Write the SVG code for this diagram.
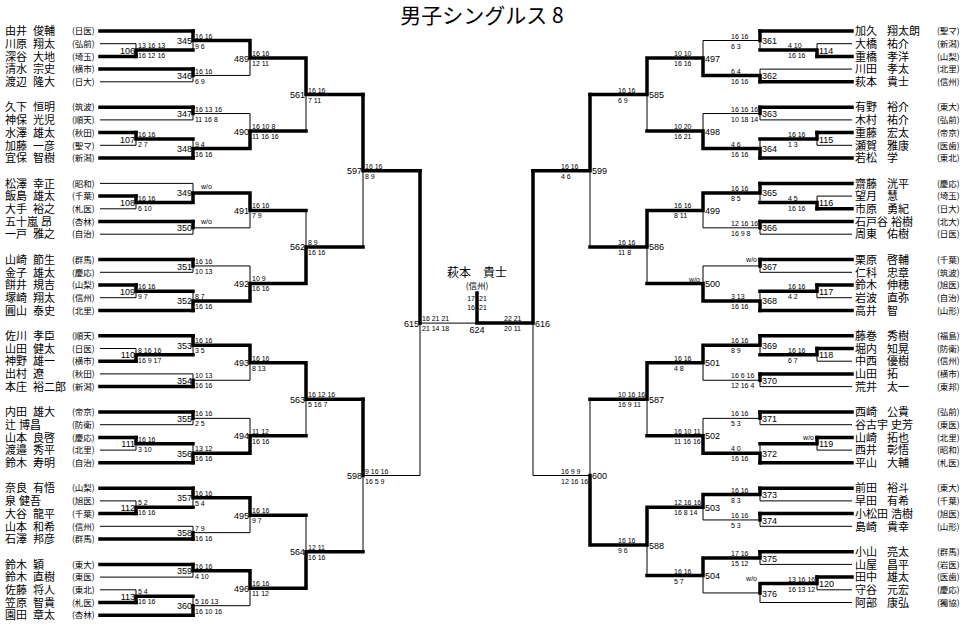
<svg xmlns="http://www.w3.org/2000/svg" width="965" height="629" viewBox="0 0 965 629">
<style>
.t{stroke:#000;stroke-width:1;fill:none}
.k{stroke:#000;stroke-width:3.5;fill:none;stroke-linecap:square}
.nm{font-family:"Noto Sans CJK JP","Noto Sans CJK SC",sans-serif;font-size:11px;fill:#000}
.sc{font-family:"Noto Sans CJK JP","Noto Sans CJK SC",sans-serif;font-size:8.5px;fill:#000}
.mn{font-family:"Liberation Sans",Arial,sans-serif;font-size:9px;fill:#000}
.ss{font-family:"Liberation Sans",Arial,sans-serif;font-size:7px;fill:#000}
.e{text-anchor:end}
.c{text-anchor:middle}
</style>
<rect width="965" height="629" fill="#fff"/>
<text x="482" y="23" class="c" style="font-family:'Noto Sans CJK JP',sans-serif;font-size:21px">男子シングルス 8</text>

<g id="connectors">
<!-- left thin -->
<path class="t" d="M100 43.7H136M100 81.8H193M100 119.9H193M100 145.3H136M100 183.4H193M100 208.8H136M100 234.2H193M100 272.3H193M100 297.7H136M100 348.5H136M100 373.9H193M100 424.7H193M100 450.1H136M100 500.9H136M100 526.3H193M100 577.1H193M100 589.8H136"/>
<path class="t" d="M136 43.7V56.4M136 132.6V145.3M136 196.1V208.8M136 285V297.7M136 348.5V361.2M136 437.4V450.1M136 500.9V513.6M136 589.8V602.5"/>
<path class="t" d="M193 31V50.05M193 69.1V81.8M193 107.2V119.9M193 138.95V158M193 183.4V202.45M193 221.5V234.2M193 259.6V272.3M193 291.35V310.4M193 335.8V354.85M193 373.9V386.6M193 412V424.7M193 443.75V462.8M193 488.2V507.25M193 526.3V539M193 564.4V577.1M193 596.15V615.2"/>
<path class="t" d="M250 40.5V75.45M250 113.55V148.5M250 192.9V227.85M250 265.95V300.9M250 345.3V380.25M250 418.35V453.3M250 497.7V532.65M250 570.75V605.7"/>
<path class="t" d="M306 58V131M306 210.4V283.4M306 362.8V435.8M306 515.2V588.2M363 94.5V246.9M363 399.3V551.7M420 170.7V475.5"/>
<path class="t" d="M193 75.45H250M193 113.55H250M193 227.85H250M193 265.95H250M193 380.25H250M193 418.35H250M193 532.65H250M193 605.7H250M363 475.5H420M420 323.1H477"/>
<!-- left thick -->
<path class="k" d="M100 31H193M100 56.4H136M100 69.1H193M100 107.2H193M100 132.6H136M100 158H193M100 196.1H136M100 221.5H193M100 259.6H193M100 285H136M100 310.4H193M100 335.8H193M100 361.2H136M100 386.6H193M100 412H193M100 437.4H136M100 462.8H193M100 488.2H193M100 513.6H136M100 539H193M100 564.4H193M100 602.5H136M100 615.2H193"/>
<path class="k" d="M136 56.4V50.05H193M193 31V40.5H250M193 69.1V75.45M250 40.5V58H306M136 132.6V138.95H193M193 107.2V113.55M193 158V148.5H250M250 148.5V131H306M306 58V94.5H363"/>
<path class="k" d="M136 196.1V202.45H193M193 202.45V192.9H250M193 221.5V227.85M250 192.9V210.4H306M193 259.6V265.95M136 285V291.35H193M193 310.4V300.9H250M250 300.9V283.4H306M306 283.4V246.9H363M363 94.5V170.7H420"/>
<path class="k" d="M136 361.2V354.85H193M193 335.8V345.3H250M193 386.6V380.25M250 345.3V362.8H306M193 412V418.35M136 437.4V443.75H193M193 462.8V453.3H250M250 453.3V435.8H306M306 362.8V399.3H363"/>
<path class="k" d="M136 513.6V507.25H193M193 488.2V497.7H250M193 539V532.65M250 497.7V515.2H306M193 564.4V570.75H250M136 602.5V596.15H193M193 615.2V605.7M250 570.75V588.2H306M306 588.2V551.7H363M363 399.3V475.5M420 170.7V323.1"/>
<!-- right thin -->
<path class="t" d="M817 43.7H852M760 69.1H852M760 119.9H852M817 145.3H852M817 196.1H852M760 234.2H852M760 272.3H852M817 297.7H852M817 361.2H852M760 386.6H852M760 424.7H852M817 450.1H852M760 500.9H852M760 526.3H852M760 564.4H852M817 589.8H852M760 602.5H852"/>
<path class="t" d="M817 43.7V56.4M817 132.6V145.3M817 196.1V208.8M817 285V297.7M817 348.5V361.2M817 437.4V450.1M817 577.1V589.8"/>
<path class="t" d="M760 31V50.05M760 69.1V81.8M760 107.2V119.9M760 138.95V158M760 183.4V202.45M760 221.5V234.2M760 259.6V272.3M760 291.35V310.4M760 335.8V354.85M760 373.9V386.6M760 412V424.7M760 443.75V462.8M760 488.2V500.9M760 513.6V526.3M760 551.7V564.4M760 583.45V602.5"/>
<path class="t" d="M703 40.5V75.45M703 113.55V148.5M703 192.9V227.85M703 265.95V300.9M703 345.3V380.25M703 418.35V453.3M703 494.55V519.95M703 558.05V592.95"/>
<path class="t" d="M647 58V131M647 210.4V283.4M647 362.8V435.8M647 507.25V575.5M590 94.5V246.9M590 399.3V545M533 170.7V475.5"/>
<path class="t" d="M760 40.5H703M760 113.55H703M760 227.85H703M760 265.95H703M760 380.25H703M760 418.35H703M760 519.95H703M760 592.95H703M590 475.5H533"/>
<!-- right thick -->
<path class="k" d="M760 31H852M817 56.4H852M760 81.8H852M760 107.2H852M817 132.6H852M760 158H852M760 183.4H852M817 208.8H852M760 221.5H852M760 259.6H852M817 285H852M760 310.4H852M760 335.8H852M817 348.5H852M760 373.9H852M760 412H852M817 437.4H852M760 462.8H852M760 488.2H852M760 513.6H852M760 551.7H852M817 577.1H852"/>
<path class="k" d="M817 56.4V50.05H760M760 31V40.5M760 81.8V75.45H703M703 75.45V58H647M817 132.6V138.95H760M760 107.2V113.55M760 158V148.5H703M703 148.5V131H647M647 58V94.5H590"/>
<path class="k" d="M817 208.8V202.45H760M760 183.4V192.9H703M760 221.5V227.85M703 192.9V210.4H647M760 259.6V265.95M817 285V291.35H760M760 310.4V300.9H703M703 300.9V283.4H647M647 210.4V246.9H590M590 94.5V170.7H533"/>
<path class="k" d="M817 348.5V354.85H760M760 335.8V345.3H703M760 373.9V380.25M703 345.3V362.8H647M760 412V418.35M817 437.4V443.75H760M760 462.8V453.3H703M703 453.3V435.8H647M647 362.8V399.3H590"/>
<path class="k" d="M760 488.2V494.55H703M760 513.6V519.95M703 494.55V507.25H647M760 551.7V558.05H703M817 577.1V583.45H760M760 583.45V592.95M703 558.05V575.5H647M647 507.25V545H590M590 545V475.5M533 170.7V323.1H477M477 323.1V293"/>
</g>

<g id="final">
<text class="nm c" x="477" y="276.5" style="font-size:12px">萩本　貴士</text>
<text class="sc c" x="477" y="289">(信州)</text>
<text class="ss e" x="475" y="301">17</text><text class="ss" x="479" y="301">21</text>
<text class="ss e" x="475" y="310">16</text><text class="ss" x="479" y="310">21</text>
<text class="mn c" x="477" y="333">624</text>
</g>

<g id="players-left">
<g id="pL0"><text class="nm" x="5" y="35.2">由井 <tspan x="33">俊輔</tspan></text><text class="sc" x="72" y="34.2">(日医)</text></g>
<g id="pL1"><text class="nm" x="5" y="47.9">川原 <tspan x="33">翔太</tspan></text><text class="sc" x="72" y="46.9">(弘前)</text></g>
<g id="pL2"><text class="nm" x="5" y="60.6">深谷 <tspan x="33">大地</tspan></text><text class="sc" x="72" y="59.6">(埼玉)</text></g>
<g id="pL3"><text class="nm" x="5" y="73.3">清水 <tspan x="33">宗史</tspan></text><text class="sc" x="72" y="72.3">(横市)</text></g>
<g id="pL4"><text class="nm" x="5" y="86">渡辺 <tspan x="33">隆大</tspan></text><text class="sc" x="72" y="85">(日大)</text></g>
<g id="pL6"><text class="nm" x="5" y="111.4">久下 <tspan x="33">恒明</tspan></text><text class="sc" x="72" y="110.4">(筑波)</text></g>
<g id="pL7"><text class="nm" x="5" y="124.1">神保 <tspan x="33">光児</tspan></text><text class="sc" x="72" y="123.1">(順天)</text></g>
<g id="pL8"><text class="nm" x="5" y="136.8">水澤 <tspan x="33">雄太</tspan></text><text class="sc" x="72" y="135.8">(秋田)</text></g>
<g id="pL9"><text class="nm" x="5" y="149.5">加藤 <tspan x="33">一彦</tspan></text><text class="sc" x="72" y="148.5">(聖マ)</text></g>
<g id="pL10"><text class="nm" x="5" y="162.2">宜保 <tspan x="33">智樹</tspan></text><text class="sc" x="72" y="161.2">(新潟)</text></g>
<g id="pL12"><text class="nm" x="5" y="187.6">松澤 <tspan x="33">幸正</tspan></text><text class="sc" x="72" y="186.6">(昭和)</text></g>
<g id="pL13"><text class="nm" x="5" y="200.3">飯島 <tspan x="33">雄太</tspan></text><text class="sc" x="72" y="199.3">(千葉)</text></g>
<g id="pL14"><text class="nm" x="5" y="213">大手 <tspan x="33">裕之</tspan></text><text class="sc" x="72" y="212">(札医)</text></g>
<g id="pL15"><text class="nm" x="5" y="225.7">五十嵐 <tspan x="41">昂</tspan></text><text class="sc" x="72" y="224.7">(杏林)</text></g>
<g id="pL16"><text class="nm" x="5" y="238.4">一戸 <tspan x="33">雅之</tspan></text><text class="sc" x="72" y="237.4">(自治)</text></g>
<g id="pL18"><text class="nm" x="5" y="263.8">山崎 <tspan x="33">節生</tspan></text><text class="sc" x="72" y="262.8">(群馬)</text></g>
<g id="pL19"><text class="nm" x="5" y="276.5">金子 <tspan x="33">雄太</tspan></text><text class="sc" x="72" y="275.5">(慶応)</text></g>
<g id="pL20"><text class="nm" x="5" y="289.2">餅井 <tspan x="33">規吉</tspan></text><text class="sc" x="72" y="288.2">(山梨)</text></g>
<g id="pL21"><text class="nm" x="5" y="301.9">塚崎 <tspan x="33">翔太</tspan></text><text class="sc" x="72" y="300.9">(信州)</text></g>
<g id="pL22"><text class="nm" x="5" y="314.6">圓山 <tspan x="33">泰史</tspan></text><text class="sc" x="72" y="313.6">(北里)</text></g>
<g id="pL24"><text class="nm" x="5" y="340">佐川 <tspan x="33">孝臣</tspan></text><text class="sc" x="72" y="339">(順天)</text></g>
<g id="pL25"><text class="nm" x="5" y="352.7">山田 <tspan x="33">健太</tspan></text><text class="sc" x="72" y="351.7">(日医)</text></g>
<g id="pL26"><text class="nm" x="5" y="365.4">神野 <tspan x="33">雄一</tspan></text><text class="sc" x="72" y="364.4">(横市)</text></g>
<g id="pL27"><text class="nm" x="5" y="378.1">出村 <tspan x="33">遼</tspan></text><text class="sc" x="72" y="377.1">(秋田)</text></g>
<g id="pL28"><text class="nm" x="5" y="390.8">本庄 <tspan x="33">裕二郎</tspan></text><text class="sc" x="72" y="389.8">(新潟)</text></g>
<g id="pL30"><text class="nm" x="5" y="416.2">内田 <tspan x="33">雄大</tspan></text><text class="sc" x="72" y="415.2">(帝京)</text></g>
<g id="pL31"><text class="nm" x="5" y="428.9">辻 <tspan x="19">博昌</tspan></text><text class="sc" x="72" y="427.9">(防衛)</text></g>
<g id="pL32"><text class="nm" x="5" y="441.6">山本 <tspan x="33">良啓</tspan></text><text class="sc" x="72" y="440.6">(慶応)</text></g>
<g id="pL33"><text class="nm" x="5" y="454.3">渡邉 <tspan x="33">秀平</tspan></text><text class="sc" x="72" y="453.3">(北里)</text></g>
<g id="pL34"><text class="nm" x="5" y="467">鈴木 <tspan x="33">寿明</tspan></text><text class="sc" x="72" y="466">(自治)</text></g>
<g id="pL36"><text class="nm" x="5" y="492.4">奈良 <tspan x="33">有悟</tspan></text><text class="sc" x="72" y="491.4">(山梨)</text></g>
<g id="pL37"><text class="nm" x="5" y="505.1">泉 <tspan x="19">健吾</tspan></text><text class="sc" x="72" y="504.1">(旭医)</text></g>
<g id="pL38"><text class="nm" x="5" y="517.8">大谷 <tspan x="33">龍平</tspan></text><text class="sc" x="72" y="516.8">(千葉)</text></g>
<g id="pL39"><text class="nm" x="5" y="530.5">山本 <tspan x="33">和希</tspan></text><text class="sc" x="72" y="529.5">(信州)</text></g>
<g id="pL40"><text class="nm" x="5" y="543.2">石澤 <tspan x="33">邦彦</tspan></text><text class="sc" x="72" y="542.2">(群馬)</text></g>
<g id="pL42"><text class="nm" x="5" y="568.6">鈴木 <tspan x="33">穎</tspan></text><text class="sc" x="72" y="567.6">(東大)</text></g>
<g id="pL43"><text class="nm" x="5" y="581.3">鈴木 <tspan x="33">直樹</tspan></text><text class="sc" x="72" y="580.3">(東医)</text></g>
<g id="pL44"><text class="nm" x="5" y="594">佐藤 <tspan x="33">将人</tspan></text><text class="sc" x="72" y="593">(東北)</text></g>
<g id="pL45"><text class="nm" x="5" y="606.7">笠原 <tspan x="33">智貴</tspan></text><text class="sc" x="72" y="605.7">(札医)</text></g>
<g id="pL46"><text class="nm" x="5" y="619.4">園田 <tspan x="33">章太</tspan></text><text class="sc" x="72" y="618.4">(杏林)</text></g>
</g>

<g id="players-right">
<g id="pR0"><text class="nm" x="855" y="35.2">加久 <tspan x="887">翔太朗</tspan></text><text class="sc" x="937" y="34.2">(聖マ)</text></g>
<g id="pR1"><text class="nm" x="855" y="47.9">大橋 <tspan x="887">祐介</tspan></text><text class="sc" x="937" y="46.9">(新潟)</text></g>
<g id="pR2"><text class="nm" x="855" y="60.6">重橋 <tspan x="887">孝洋</tspan></text><text class="sc" x="937" y="59.6">(山梨)</text></g>
<g id="pR3"><text class="nm" x="855" y="73.3">川田 <tspan x="887">孝太</tspan></text><text class="sc" x="937" y="72.3">(北里)</text></g>
<g id="pR4"><text class="nm" x="855" y="86">萩本 <tspan x="887">貴士</tspan></text><text class="sc" x="937" y="85">(信州)</text></g>
<g id="pR6"><text class="nm" x="855" y="111.4">有野 <tspan x="887">裕介</tspan></text><text class="sc" x="937" y="110.4">(東大)</text></g>
<g id="pR7"><text class="nm" x="855" y="124.1">木村 <tspan x="887">祐介</tspan></text><text class="sc" x="937" y="123.1">(弘前)</text></g>
<g id="pR8"><text class="nm" x="855" y="136.8">重藤 <tspan x="887">宏太</tspan></text><text class="sc" x="937" y="135.8">(帝京)</text></g>
<g id="pR9"><text class="nm" x="855" y="149.5">瀬賀 <tspan x="887">雅康</tspan></text><text class="sc" x="937" y="148.5">(医歯)</text></g>
<g id="pR10"><text class="nm" x="855" y="162.2">若松 <tspan x="887">学</tspan></text><text class="sc" x="937" y="161.2">(東北)</text></g>
<g id="pR12"><text class="nm" x="855" y="187.6">齋藤 <tspan x="887">洸平</tspan></text><text class="sc" x="937" y="186.6">(慶応)</text></g>
<g id="pR13"><text class="nm" x="855" y="200.3">望月 <tspan x="887">慧</tspan></text><text class="sc" x="937" y="199.3">(埼玉)</text></g>
<g id="pR14"><text class="nm" x="855" y="213">市原 <tspan x="887">勇紀</tspan></text><text class="sc" x="937" y="212">(日大)</text></g>
<g id="pR15"><text class="nm" x="855" y="225.7">石戸谷 <tspan x="891">裕樹</tspan></text><text class="sc" x="937" y="224.7">(北大)</text></g>
<g id="pR16"><text class="nm" x="855" y="238.4">周東 <tspan x="887">佑樹</tspan></text><text class="sc" x="937" y="237.4">(日医)</text></g>
<g id="pR18"><text class="nm" x="855" y="263.8">栗原 <tspan x="887">啓輔</tspan></text><text class="sc" x="937" y="262.8">(千葉)</text></g>
<g id="pR19"><text class="nm" x="855" y="276.5">仁科 <tspan x="887">忠章</tspan></text><text class="sc" x="937" y="275.5">(筑波)</text></g>
<g id="pR20"><text class="nm" x="855" y="289.2">鈴木 <tspan x="887">伸穂</tspan></text><text class="sc" x="937" y="288.2">(旭医)</text></g>
<g id="pR21"><text class="nm" x="855" y="301.9">岩波 <tspan x="887">直弥</tspan></text><text class="sc" x="937" y="300.9">(自治)</text></g>
<g id="pR22"><text class="nm" x="855" y="314.6">高井 <tspan x="887">智</tspan></text><text class="sc" x="937" y="313.6">(山形)</text></g>
<g id="pR24"><text class="nm" x="855" y="340">藤巻 <tspan x="887">秀樹</tspan></text><text class="sc" x="937" y="339">(福島)</text></g>
<g id="pR25"><text class="nm" x="855" y="352.7">堀内 <tspan x="887">知晃</tspan></text><text class="sc" x="937" y="351.7">(防衛)</text></g>
<g id="pR26"><text class="nm" x="855" y="365.4">中西 <tspan x="887">優樹</tspan></text><text class="sc" x="937" y="364.4">(信州)</text></g>
<g id="pR27"><text class="nm" x="855" y="378.1">山田 <tspan x="887">拓</tspan></text><text class="sc" x="937" y="377.1">(横市)</text></g>
<g id="pR28"><text class="nm" x="855" y="390.8">荒井 <tspan x="887">太一</tspan></text><text class="sc" x="937" y="389.8">(東邦)</text></g>
<g id="pR30"><text class="nm" x="855" y="416.2">西崎 <tspan x="887">公貴</tspan></text><text class="sc" x="937" y="415.2">(弘前)</text></g>
<g id="pR31"><text class="nm" x="855" y="428.9">谷古宇 <tspan x="891">史芳</tspan></text><text class="sc" x="937" y="427.9">(東医)</text></g>
<g id="pR32"><text class="nm" x="855" y="441.6">山崎 <tspan x="887">拓也</tspan></text><text class="sc" x="937" y="440.6">(北里)</text></g>
<g id="pR33"><text class="nm" x="855" y="454.3">西井 <tspan x="887">彰悟</tspan></text><text class="sc" x="937" y="453.3">(昭和)</text></g>
<g id="pR34"><text class="nm" x="855" y="467">平山 <tspan x="887">大輔</tspan></text><text class="sc" x="937" y="466">(札医)</text></g>
<g id="pR36"><text class="nm" x="855" y="492.4">前田 <tspan x="887">裕斗</tspan></text><text class="sc" x="937" y="491.4">(東大)</text></g>
<g id="pR37"><text class="nm" x="855" y="505.1">早田 <tspan x="887">有希</tspan></text><text class="sc" x="937" y="504.1">(千葉)</text></g>
<g id="pR38"><text class="nm" x="855" y="517.8">小松田 <tspan x="891">浩樹</tspan></text><text class="sc" x="937" y="516.8">(旭医)</text></g>
<g id="pR39"><text class="nm" x="855" y="530.5">島崎 <tspan x="887">貴幸</tspan></text><text class="sc" x="937" y="529.5">(山形)</text></g>
<g id="pR41"><text class="nm" x="855" y="555.9">小山 <tspan x="887">亮太</tspan></text><text class="sc" x="937" y="554.9">(群馬)</text></g>
<g id="pR42"><text class="nm" x="855" y="568.6">山屋 <tspan x="887">昌平</tspan></text><text class="sc" x="937" y="567.6">(岩医)</text></g>
<g id="pR43"><text class="nm" x="855" y="581.3">田中 <tspan x="887">雄太</tspan></text><text class="sc" x="937" y="580.3">(医歯)</text></g>
<g id="pR44"><text class="nm" x="855" y="594">守谷 <tspan x="887">元宏</tspan></text><text class="sc" x="937" y="593">(慶応)</text></g>
<g id="pR45"><text class="nm" x="855" y="606.7">阿部 <tspan x="887">康弘</tspan></text><text class="sc" x="937" y="605.7">(獨協)</text></g>
</g>

<g id="matches-left">
<g id="m106"><text class="mn e" x="135" y="53.6">106</text><text class="ss" x="138" y="48.1">13 16 13</text><text class="ss" x="138" y="58.1">16 12 16</text></g>
<g id="m107"><text class="mn e" x="135" y="142.5">107</text><text class="ss" x="138" y="137">16 16</text><text class="ss" x="138" y="147">2 7</text></g>
<g id="m108"><text class="mn e" x="135" y="206">108</text><text class="ss" x="138" y="200.5">16 16</text><text class="ss" x="138" y="210.5">6 10</text></g>
<g id="m109"><text class="mn e" x="135" y="294.9">109</text><text class="ss" x="138" y="289.4">16 16</text><text class="ss" x="138" y="299.4">9 7</text></g>
<g id="m110"><text class="mn e" x="135" y="358.4">110</text><text class="ss" x="138" y="352.9">8 16 16</text><text class="ss" x="138" y="362.9">16 9 17</text></g>
<g id="m111"><text class="mn e" x="135" y="447.3">111</text><text class="ss" x="138" y="441.8">16 16</text><text class="ss" x="138" y="451.8">3 10</text></g>
<g id="m112"><text class="mn e" x="135" y="510.8">112</text><text class="ss" x="138" y="505.3">5 2</text><text class="ss" x="138" y="515.3">16 16</text></g>
<g id="m113"><text class="mn e" x="135" y="599.7">113</text><text class="ss" x="138" y="594.2">5 4</text><text class="ss" x="138" y="604.2">16 16</text></g>
<g id="m345"><text class="mn e" x="192" y="44">345</text><text class="ss" x="195" y="38.5">16 16</text><text class="ss" x="195" y="48.5">9 6</text></g>
<g id="m346"><text class="mn e" x="192" y="79">346</text><text class="ss" x="195" y="73.5">16 16</text><text class="ss" x="195" y="83.5">6 9</text></g>
<g id="m347"><text class="mn e" x="192" y="117.1">347</text><text class="ss" x="195" y="111.6">16 13 16</text><text class="ss" x="195" y="121.6">11 16 8</text></g>
<g id="m348"><text class="mn e" x="192" y="152">348</text><text class="ss" x="195" y="146.5">9 4</text><text class="ss" x="195" y="156.5">16 16</text></g>
<g id="m349"><text class="mn e" x="192" y="196.4">349</text><text class="ss" x="201" y="188.9">w/o</text></g>
<g id="m350"><text class="mn e" x="192" y="231.4">350</text><text class="ss" x="201" y="223.9">w/o</text></g>
<g id="m351"><text class="mn e" x="192" y="269.5">351</text><text class="ss" x="195" y="264">16 16</text><text class="ss" x="195" y="274">10 13</text></g>
<g id="m352"><text class="mn e" x="192" y="304.4">352</text><text class="ss" x="195" y="298.9">8 7</text><text class="ss" x="195" y="308.9">16 16</text></g>
<g id="m353"><text class="mn e" x="192" y="348.8">353</text><text class="ss" x="195" y="343.3">16 16</text><text class="ss" x="195" y="353.3">3 5</text></g>
<g id="m354"><text class="mn e" x="192" y="383.8">354</text><text class="ss" x="195" y="378.3">10 13</text><text class="ss" x="195" y="388.3">16 16</text></g>
<g id="m355"><text class="mn e" x="192" y="421.9">355</text><text class="ss" x="195" y="416.4">16 16</text><text class="ss" x="195" y="426.4">2 5</text></g>
<g id="m356"><text class="mn e" x="192" y="456.8">356</text><text class="ss" x="195" y="451.3">13 12</text><text class="ss" x="195" y="461.3">16 16</text></g>
<g id="m357"><text class="mn e" x="192" y="501.2">357</text><text class="ss" x="195" y="495.7">16 16</text><text class="ss" x="195" y="505.7">5 4</text></g>
<g id="m358"><text class="mn e" x="192" y="536.2">358</text><text class="ss" x="195" y="530.7">7 9</text><text class="ss" x="195" y="540.7">16 16</text></g>
<g id="m359"><text class="mn e" x="192" y="574.3">359</text><text class="ss" x="195" y="568.8">16 16</text><text class="ss" x="195" y="578.8">4 10</text></g>
<g id="m360"><text class="mn e" x="192" y="609.2">360</text><text class="ss" x="195" y="603.7">5 16 13</text><text class="ss" x="195" y="613.7">16 10 16</text></g>
<g id="m489"><text class="mn e" x="249" y="61.5">489</text><text class="ss" x="252" y="56">16 16</text><text class="ss" x="252" y="66">12 11</text></g>
<g id="m490"><text class="mn e" x="249" y="134.5">490</text><text class="ss" x="252" y="129">16 10 8</text><text class="ss" x="252" y="139">11 16 16</text></g>
<g id="m491"><text class="mn e" x="249" y="213.9">491</text><text class="ss" x="252" y="208.4">16 16</text><text class="ss" x="252" y="218.4">7 9</text></g>
<g id="m492"><text class="mn e" x="249" y="286.9">492</text><text class="ss" x="252" y="281.4">10 9</text><text class="ss" x="252" y="291.4">16 16</text></g>
<g id="m493"><text class="mn e" x="249" y="366.3">493</text><text class="ss" x="252" y="360.8">16 16</text><text class="ss" x="252" y="370.8">8 13</text></g>
<g id="m494"><text class="mn e" x="249" y="439.3">494</text><text class="ss" x="252" y="433.8">11 12</text><text class="ss" x="252" y="443.8">16 16</text></g>
<g id="m495"><text class="mn e" x="249" y="518.7">495</text><text class="ss" x="252" y="513.2">16 16</text><text class="ss" x="252" y="523.2">9 7</text></g>
<g id="m496"><text class="mn e" x="249" y="591.7">496</text><text class="ss" x="252" y="586.2">16 16</text><text class="ss" x="252" y="596.2">11 12</text></g>
<g id="m561"><text class="mn e" x="305" y="98">561</text><text class="ss" x="308" y="92.5">16 16</text><text class="ss" x="308" y="102.5">7 11</text></g>
<g id="m562"><text class="mn e" x="305" y="250.4">562</text><text class="ss" x="308" y="244.9">8 9</text><text class="ss" x="308" y="254.9">16 16</text></g>
<g id="m563"><text class="mn e" x="305" y="402.8">563</text><text class="ss" x="308" y="397.3">16 12 16</text><text class="ss" x="308" y="407.3">5 16 7</text></g>
<g id="m564"><text class="mn e" x="305" y="555.2">564</text><text class="ss" x="308" y="549.7">12 11</text><text class="ss" x="308" y="559.7">16 16</text></g>
<g id="m597"><text class="mn e" x="362" y="174.2">597</text><text class="ss" x="365" y="168.7">16 16</text><text class="ss" x="365" y="178.7">8 9</text></g>
<g id="m598"><text class="mn e" x="362" y="479">598</text><text class="ss" x="365" y="473.5">9 16 16</text><text class="ss" x="365" y="483.5">16 5 9</text></g>
<g id="m615"><text class="mn e" x="419" y="326.6">615</text><text class="ss" x="422" y="321.1">16 21 21</text><text class="ss" x="422" y="331.1">21 14 18</text></g>
</g>

<g id="matches-right">
<g id="m114"><text class="mn" x="819" y="53.6">114</text><text class="ss" x="788" y="48.1">4 10</text><text class="ss" x="788" y="58.1">16 16</text></g>
<g id="m115"><text class="mn" x="819" y="142.5">115</text><text class="ss" x="788" y="137">16 16</text><text class="ss" x="788" y="147">1 3</text></g>
<g id="m116"><text class="mn" x="819" y="206">116</text><text class="ss" x="788" y="200.5">4 5</text><text class="ss" x="788" y="210.5">16 16</text></g>
<g id="m117"><text class="mn" x="819" y="294.9">117</text><text class="ss" x="788" y="289.4">16 16</text><text class="ss" x="788" y="299.4">4 2</text></g>
<g id="m118"><text class="mn" x="819" y="358.4">118</text><text class="ss" x="788" y="352.9">16 16</text><text class="ss" x="788" y="362.9">6 7</text></g>
<g id="m119"><text class="mn" x="819" y="447.3">119</text><text class="ss e" x="814" y="439.8">w/o</text></g>
<g id="m120"><text class="mn" x="819" y="587">120</text><text class="ss" x="788" y="581.5">13 16 16</text><text class="ss" x="788" y="591.5">16 13 12</text></g>
<g id="m361"><text class="mn" x="762" y="44">361</text><text class="ss" x="731" y="38.5">16 16</text><text class="ss" x="731" y="48.5">6 3</text></g>
<g id="m362"><text class="mn" x="762" y="79">362</text><text class="ss" x="731" y="73.5">6 4</text><text class="ss" x="731" y="83.5">16 16</text></g>
<g id="m363"><text class="mn" x="762" y="117.1">363</text><text class="ss" x="731" y="111.6">16 16 16</text><text class="ss" x="731" y="121.6">10 18 14</text></g>
<g id="m364"><text class="mn" x="762" y="152">364</text><text class="ss" x="731" y="146.5">4 6</text><text class="ss" x="731" y="156.5">16 16</text></g>
<g id="m365"><text class="mn" x="762" y="196.4">365</text><text class="ss" x="731" y="190.9">16 16</text><text class="ss" x="731" y="200.9">8 5</text></g>
<g id="m366"><text class="mn" x="762" y="231.4">366</text><text class="ss" x="731" y="225.9">12 16 16</text><text class="ss" x="731" y="235.9">16 9 8</text></g>
<g id="m367"><text class="mn" x="762" y="269.5">367</text><text class="ss e" x="757" y="262">w/o</text></g>
<g id="m368"><text class="mn" x="762" y="304.4">368</text><text class="ss" x="731" y="298.9">3 13</text><text class="ss" x="731" y="308.9">16 16</text></g>
<g id="m369"><text class="mn" x="762" y="348.8">369</text><text class="ss" x="731" y="343.3">16 16</text><text class="ss" x="731" y="353.3">8 9</text></g>
<g id="m370"><text class="mn" x="762" y="383.8">370</text><text class="ss" x="731" y="378.3">16 6 16</text><text class="ss" x="731" y="388.3">12 16 4</text></g>
<g id="m371"><text class="mn" x="762" y="421.9">371</text><text class="ss" x="731" y="416.4">16 16</text><text class="ss" x="731" y="426.4">5 3</text></g>
<g id="m372"><text class="mn" x="762" y="456.8">372</text><text class="ss" x="731" y="451.3">4 0</text><text class="ss" x="731" y="461.3">16 16</text></g>
<g id="m373"><text class="mn" x="762" y="498.1">373</text><text class="ss" x="731" y="492.6">16 16</text><text class="ss" x="731" y="502.6">8 3</text></g>
<g id="m374"><text class="mn" x="762" y="523.5">374</text><text class="ss" x="731" y="518">16 16</text><text class="ss" x="731" y="528">5 3</text></g>
<g id="m375"><text class="mn" x="762" y="561.6">375</text><text class="ss" x="731" y="556.1">17 16</text><text class="ss" x="731" y="566.1">15 12</text></g>
<g id="m376"><text class="mn" x="762" y="596.5">376</text><text class="ss e" x="757" y="581">w/o</text></g>
<g id="m497"><text class="mn" x="705" y="61.5">497</text><text class="ss" x="674" y="56">10 10</text><text class="ss" x="674" y="66">16 16</text></g>
<g id="m498"><text class="mn" x="705" y="134.5">498</text><text class="ss" x="674" y="129">10 20</text><text class="ss" x="674" y="139">16 21</text></g>
<g id="m499"><text class="mn" x="705" y="213.9">499</text><text class="ss" x="674" y="208.4">16 16</text><text class="ss" x="674" y="218.4">8 11</text></g>
<g id="m500"><text class="mn" x="705" y="286.9">500</text><text class="ss e" x="700" y="282">w/o</text></g>
<g id="m501"><text class="mn" x="705" y="366.3">501</text><text class="ss" x="674" y="360.8">16 16</text><text class="ss" x="674" y="370.8">4 8</text></g>
<g id="m502"><text class="mn" x="705" y="439.3">502</text><text class="ss" x="674" y="433.8">16 10 11</text><text class="ss" x="674" y="443.8">11 16 16</text></g>
<g id="m503"><text class="mn" x="705" y="510.8">503</text><text class="ss" x="674" y="505.3">12 16 16</text><text class="ss" x="674" y="515.3">16 8 14</text></g>
<g id="m504"><text class="mn" x="705" y="579">504</text><text class="ss" x="674" y="573.5">16 16</text><text class="ss" x="674" y="583.5">5 7</text></g>
<g id="m585"><text class="mn" x="649" y="98">585</text><text class="ss" x="618" y="92.5">16 16</text><text class="ss" x="618" y="102.5">6 9</text></g>
<g id="m586"><text class="mn" x="649" y="250.4">586</text><text class="ss" x="618" y="244.9">16 16</text><text class="ss" x="618" y="254.9">11 8</text></g>
<g id="m587"><text class="mn" x="649" y="402.8">587</text><text class="ss" x="618" y="397.3">10 16 16</text><text class="ss" x="618" y="407.3">16 9 11</text></g>
<g id="m588"><text class="mn" x="649" y="548.5">588</text><text class="ss" x="618" y="543">16 16</text><text class="ss" x="618" y="553">9 6</text></g>
<g id="m599"><text class="mn" x="592" y="174.2">599</text><text class="ss" x="561" y="168.7">16 16</text><text class="ss" x="561" y="178.7">4 6</text></g>
<g id="m600"><text class="mn" x="592" y="479">600</text><text class="ss" x="561" y="473.5">16 9 9</text><text class="ss" x="561" y="483.5">12 16 16</text></g>
<g id="m616"><text class="mn" x="535" y="326.6">616</text><text class="ss" x="504" y="321.1">22 21</text><text class="ss" x="504" y="331.1">20 11</text></g>
</g>
</svg>
